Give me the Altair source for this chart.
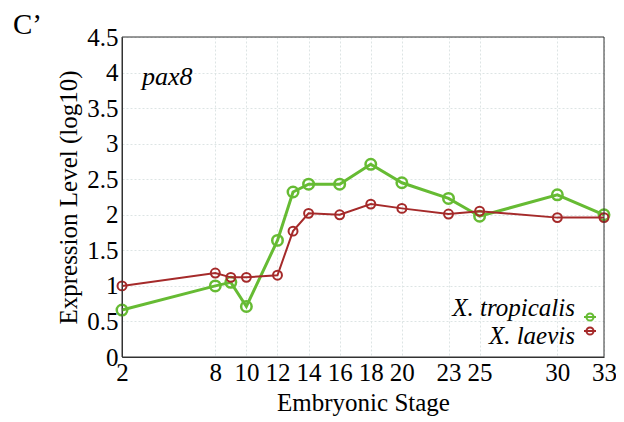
import altair as alt
import pandas as pd

stages = [2, 8, 9, 10, 12, 13, 14, 16, 18, 20, 23, 25, 30, 33]
tropicalis = [0.66, 1.00, 1.05, 0.71, 1.64, 2.32, 2.43, 2.43, 2.71, 2.45, 2.23, 1.98, 2.28, 2.00]
laevis = [1.00, 1.18, 1.12, 1.12, 1.15, 1.77, 2.02, 2.00, 2.15, 2.09, 2.01, 2.05, 1.96, 1.96]
series_names = ["X. tropicalis", "X. laevis"]
series_values = [tropicalis, laevis]
colors = ["#66bb33", "#a52a2a"]
x_ticks = [2, 8, 10, 12, 14, 16, 18, 20, 23, 25, 30, 33]
y_ticks = [0, 0.5, 1, 1.5, 2, 2.5, 3, 3.5, 4, 4.5]
gene = "pax8"
panel = "C\u2019"

FONT = "Liberation Serif"
W, H = 482, 320

rows = []
for name, vals in zip(series_names, series_values):
    for s, v in zip(stages, vals):
        rows.append({"stage": s, "level": v, "species": name})
df = pd.DataFrame(rows)

x_enc = alt.X("stage:Q", scale=alt.Scale(domain=[2, 33], nice=False, zero=False),
              axis=alt.Axis(values=x_ticks, title="Embryonic Stage", labelPadding=3,
                            titlePadding=5, labelFlush=False, format="d"))
y_enc = alt.Y("level:Q", scale=alt.Scale(domain=[0, 4.5], nice=False),
              axis=alt.Axis(values=y_ticks, title="Expression Level (log10)", labelPadding=4,
                            titlePadding=5, labelFlush=False, format="~g"))

widths = [3, 2]
sizes = [110, 80]
stroke_w = [2.5, 2]

layers = []
for name, col, w, sz, sw in zip(series_names, colors, widths, sizes, stroke_w):
    base = alt.Chart(df).transform_filter(alt.datum.species == name)
    layers.append(base.mark_line(color=col, strokeWidth=w).encode(x=x_enc, y=y_enc))
    layers.append(base.mark_point(color=col, shape="circle", filled=False, size=sz,
                                  strokeWidth=sw, opacity=1).encode(x=x_enc, y=y_enc))

# plot frame on top of the grid
frame = pd.DataFrame({"f": [1]})
layers.append(alt.Chart(frame).mark_rect(fill=None, stroke="#333333", strokeWidth=1)
              .encode(x=alt.value(0), x2=alt.value(W), y=alt.value(0), y2=alt.value(H)))

# legend (custom, labels left of symbols)
leg_text_y = [279, 307]
leg_sym_y = [280, 294]
for name, col, ty, sy in zip(series_names, colors, leg_text_y, leg_sym_y):
    ldf = pd.DataFrame({"species": [name]})
    layers.append(alt.Chart(ldf).mark_text(font=FONT, fontSize=25, fontStyle="italic",
                                           align="right", baseline="alphabetic", color="black")
                  .encode(text="species:N", x=alt.value(453), y=alt.value(ty)))
    layers.append(alt.Chart(ldf).mark_rule(color=col, strokeWidth=2)
                  .encode(x=alt.value(462), x2=alt.value(474), y=alt.value(sy)))
    layers.append(alt.Chart(ldf).mark_point(color=col, shape="circle", filled=False, size=50,
                                            strokeWidth=2, opacity=1)
                  .encode(x=alt.value(468), y=alt.value(sy)))

ann = pd.DataFrame({"t": [gene]})
layers.append(alt.Chart(ann).mark_text(font=FONT, fontSize=26, fontStyle="italic",
                                       align="left", baseline="alphabetic", color="black")
              .encode(text="t:N", x=alt.value(20), y=alt.value(48)))
pan = pd.DataFrame({"t": [panel]})
layers.append(alt.Chart(pan).mark_text(font=FONT, fontSize=29, align="left",
                                       baseline="alphabetic", color="black")
              .encode(text="t:N", x=alt.value(-109), y=alt.value(-3)))

chart = alt.layer(*layers).properties(
    width=W, height=H,
    background="white",
    autosize=alt.AutoSizeParams(type="none"),
    padding={"left": 114, "top": 29, "right": 12, "bottom": 60},
).configure_view(stroke=None).configure_axis(
    labelFont=FONT, labelFontSize=25, labelColor="black",
    titleFont=FONT, titleFontSize=25, titleFontWeight="normal", titleColor="black",
    grid=True, gridColor="#dde4e4", gridDash=[2, 2], gridWidth=1,
    domainColor="#333333", ticks=False,
)

chart.save("out.html", embed_options={"renderer": "svg", "actions": False})
